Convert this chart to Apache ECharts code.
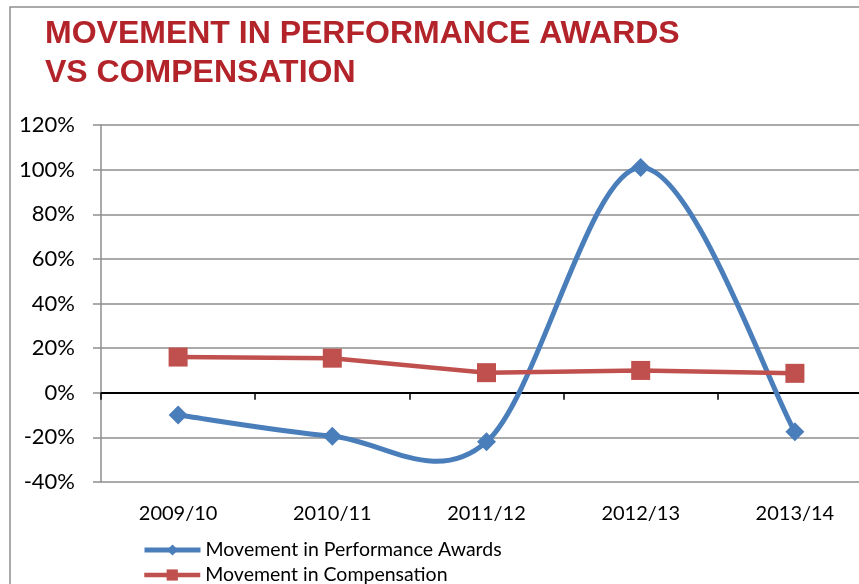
<!DOCTYPE html>
<html>
<head>
<meta charset="utf-8">
<script src="https://cdn.jsdelivr.net/npm/echarts@6/dist/echarts.min.js"></script>
<style>
  html, body { margin: 0; padding: 0; background: #fff; }
  #chart { width: 859px; height: 584px; }
</style>
</head>
<body>
<div id="chart"></div>
<script>
// years on the x axis
var years = ['2009/10', '2010/11', '2011/12', '2012/13', '2013/14'];
// movement values, in percent
var awards = [-10, -19.5, -22, 101, -17.5];
var compensation = [16, 15.5, 9, 10, 8.7];
var seriesNames = ['Movement in Performance Awards', 'Movement in Compensation'];
var yMin = -40, yMax = 120, yStep = 20;

var blue = '#4a7ebb', red = '#c0504d';
var gridGray = '#8e8e8e';
var labelFont = 'Lato, "Liberation Sans", sans-serif';

// excel style smoothed line: catmull-rom bezier through the points (in pixels)
function renderCurve(params, api) {
    if (params.dataIndex !== 0) return null;
    var pts = awards.map(function (v, i) { return api.coord([i, v]); });
    var d = 'M' + pts[0][0] + ' ' + pts[0][1];
    for (var i = 0; i < pts.length - 1; i++) {
        var p0 = pts[i - 1] || pts[i], p1 = pts[i], p2 = pts[i + 1], p3 = pts[i + 2] || pts[i + 1];
        var c1x = p1[0] + (p2[0] - p0[0]) / 6, c1y = p1[1] + (p2[1] - p0[1]) / 6;
        var c2x = p2[0] - (p3[0] - p1[0]) / 6, c2y = p2[1] - (p3[1] - p1[1]) / 6;
        d += ' C' + c1x + ' ' + c1y + ' ' + c2x + ' ' + c2y + ' ' + p2[0] + ' ' + p2[1];
    }
    return {
        type: 'path',
        shape: { pathData: d },
        style: { fill: 'none', stroke: blue, lineWidth: 5, lineJoin: 'round', lineCap: 'round' }
    };
}

var legendText = { fontFamily: labelFont, fontSize: 19.5, lineHeight: 20, color: '#000' };

var myChart = echarts.init(document.getElementById('chart'));
myChart.setOption({
    animation: false,
    backgroundColor: '#fff',
    title: {
        text: 'MOVEMENT IN PERFORMANCE AWARDS\nVS COMPENSATION',
        left: 45,
        top: 15,
        padding: 0,
        textStyle: {
            color: '#b3232a',
            fontFamily: '"Liberation Sans", Arial, sans-serif',
            fontWeight: 'bold',
            fontSize: 32,
            lineHeight: 39
        }
    },
    graphic: [{
        type: 'rect',
        shape: { x: 10, y: 7, width: 900, height: 700 },
        style: { fill: 'none', stroke: gridGray, lineWidth: 1.5 },
        silent: true
    }],
    legend: [{
        left: 142, top: 540, padding: 0,
        itemWidth: 56, itemHeight: 14,
        data: [{ name: seriesNames[0], lineStyle: { color: blue, width: 5, opacity: 1 } }],
        textStyle: legendText
    }, {
        left: 142, top: 565, padding: 0,
        itemWidth: 56, itemHeight: 14,
        data: [{ name: seriesNames[1], lineStyle: { color: red, width: 4.5 } }],
        textStyle: legendText
    }],
    grid: { left: 101, top: 125, width: 771, height: 357, containLabel: false, outerBoundsMode: 'none' },
    xAxis: [{
        type: 'category',
        data: years,
        position: 'bottom',
        axisLine: { show: false, onZero: false },
        axisTick: { show: false },
        axisLabel: { margin: 22, fontFamily: labelFont, fontSize: 20, color: '#000' }
    }, {
        type: 'category',
        data: years,
        position: 'bottom',
        axisLine: { show: true, onZero: true, lineStyle: { color: '#000', width: 2 } },
        axisTick: { show: true, length: 7, lineStyle: { color: '#000', width: 1.5 } },
        axisLabel: { show: false }
    }],
    yAxis: {
        type: 'value',
        min: yMin,
        max: yMax,
        interval: yStep,
        axisLine: { show: true, lineStyle: { color: gridGray, width: 1.5 } },
        axisTick: { show: true, length: 8, lineStyle: { color: gridGray, width: 1.5 } },
        splitLine: { show: true, lineStyle: { color: gridGray, width: 1.5 } },
        axisLabel: { margin: 26, formatter: '{value}%', fontFamily: labelFont, fontSize: 22, color: '#000' }
    },
    series: [{
        name: seriesNames[1],
        type: 'line',
        data: compensation,
        symbol: 'rect',
        symbolSize: 19,
        lineStyle: { color: red, width: 4.5 },
        itemStyle: { color: red }
    }, {
        type: 'custom',
        data: awards.map(function (v, i) { return [i, v]; }),
        renderItem: renderCurve,
        silent: true
    }, {
        name: seriesNames[0],
        type: 'line',
        data: awards,
        symbol: 'diamond',
        symbolSize: 19,
        lineStyle: { color: blue, width: 5, opacity: 0 },
        itemStyle: { color: blue }
    }]
});
</script>
</body>
</html>
